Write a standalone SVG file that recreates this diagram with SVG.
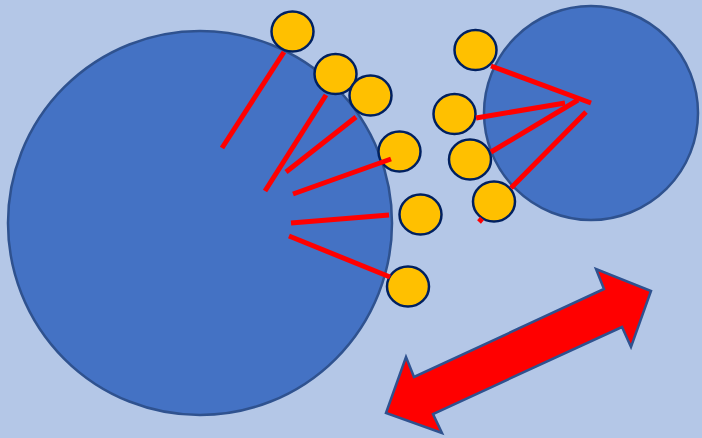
<svg xmlns="http://www.w3.org/2000/svg" width="702" height="438" viewBox="0 0 702 438">
  <style>
    .cell { fill: #4472C4; stroke: #2F528F; stroke-width: 2.5; }
    .bead { fill: #FFC000; stroke: #002060; stroke-width: 2.5; }
    .link { stroke: #FF0000; stroke-width: 5; fill: none; }
    .arrow { fill: #FF0000; stroke: #2F528F; stroke-width: 2.5; stroke-linejoin: miter; }
  </style>
  <rect width="702" height="438" fill="#B4C7E7"/>

  <g id="cell-large"><circle class="cell" cx="200" cy="223" r="192"/></g>
  <g id="cell-small"><circle class="cell" cx="591" cy="113" r="107"/></g>

  <g id="bead-1"><ellipse class="bead" cx="292.5" cy="31.5" rx="21" ry="20"/></g>
  <g id="bead-2"><ellipse class="bead" cx="335.5" cy="74" rx="21" ry="20"/></g>
  <g id="bead-3"><ellipse class="bead" cx="370.5" cy="95.5" rx="21" ry="20"/></g>
  <g id="bead-4"><ellipse class="bead" cx="399.5" cy="151.5" rx="21" ry="20"/></g>
  <g id="bead-5"><ellipse class="bead" cx="420.5" cy="214.5" rx="21" ry="20"/></g>
  <g id="bead-6"><ellipse class="bead" cx="408" cy="286.5" rx="21" ry="20"/></g>
  <g id="bead-7"><ellipse class="bead" cx="475.5" cy="50" rx="21" ry="20"/></g>
  <g id="bead-8"><ellipse class="bead" cx="454.5" cy="114" rx="21" ry="20"/></g>
  <g id="bead-9"><ellipse class="bead" cx="470" cy="159.5" rx="21" ry="20"/></g>
  <g id="bead-10"><ellipse class="bead" cx="494" cy="201.5" rx="21" ry="20"/></g>

  <g id="connectors">
    <line class="link" x1="284" y1="52" x2="222" y2="148"/>
    <line class="link" x1="326" y1="95" x2="265" y2="191"/>
    <line class="link" x1="356" y1="117" x2="286" y2="172"/>
    <line class="link" x1="391" y1="159" x2="293" y2="194"/>
    <line class="link" x1="389" y1="215" x2="291" y2="223"/>
    <line class="link" x1="289" y1="236" x2="390" y2="277"/>
    <line class="link" x1="491" y1="66" x2="591" y2="103"/>
    <line class="link" x1="476" y1="118" x2="565" y2="103"/>
    <line class="link" x1="491" y1="152" x2="578" y2="100"/>
    <line class="link" x1="511" y1="188" x2="586" y2="112"/>
    <line class="link" x1="479" y1="222" x2="482" y2="218.5"/>
  </g>

  <g id="double-arrow">
    <polygon class="arrow" points="386,413 406,357 414,377 604,289 596,269 651,291 631,347 622,327 433,414 442,433"/>
  </g>
</svg>
